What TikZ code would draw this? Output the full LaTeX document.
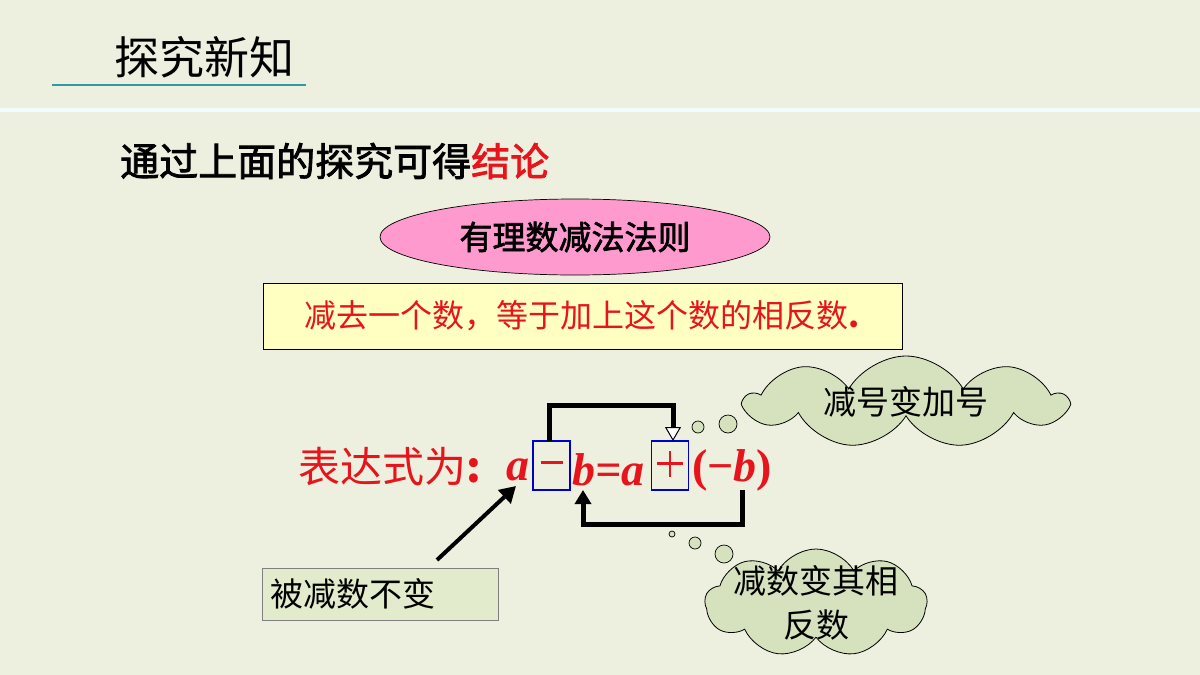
\documentclass[tikz,border=0pt]{standalone}
\usepackage{fontspec}
\setmainfont{Liberation Serif}
\newfontfamily\cjk{Noto Sans CJK SC}
\newfontfamily\cjkb[FakeBold=2]{Noto Sans CJK SC}
\usetikzlibrary{shapes.symbols,shapes.geometric,arrows.meta}
\definecolor{bg}{HTML}{EDEFDF}
\definecolor{teal}{HTML}{2E9AA6}
\definecolor{cloudg}{HTML}{D5E2BD}
\definecolor{boxg}{HTML}{E2EBCB}
\definecolor{yel}{HTML}{FFFFC2}
\definecolor{pink}{HTML}{FF9ACF}
\definecolor{red}{HTML}{E8141C}
\tikzset{
  cloudn/.style={cloud,cloud puffs=9,cloud puff arc=120,aspect=3,draw=black,fill=cloudg,line width=0.8pt,inner sep=0pt},
  ctext/.style={align=center,font=\cjk\fontsize{33}{44}\selectfont,inner sep=0pt},
  bub/.style={circle,draw=black,fill=cloudg,line width=0.7pt,inner sep=0pt},
  sbox/.style={draw=blue!80!black,line width=1.2pt,minimum width=37pt,minimum height=49pt},
  thk/.style={line width=5pt},
  sym/.style={red,line width=2.6pt},
  mth/.style={font=\bfseries\itshape\fontsize{46}{48}\selectfont,text=red,inner sep=0pt}
}
\begin{document}
\begin{tikzpicture}[x=1pt,y=-1pt]
\fill[bg] (0,0) rectangle (1200,675);
\useasboundingbox (0,0) rectangle (1200,675);
\fill[white!60!cyan!12] (0,108) rectangle (1200,112);
\node[anchor=west,font=\cjk\fontsize{45}{48}\selectfont,inner sep=0pt] (title) at (114,57) {探究新知};
\draw[teal,line width=2.5pt] (52,85) -- (306,85);
\node[anchor=west,font=\cjkb\fontsize{39}{42}\selectfont,inner sep=0pt] (concl) at (120,161) {通过上面的探究可得\textcolor{red}{结论}};
\node[ellipse,draw=black,fill=pink,line width=0.7pt,minimum width=390pt,minimum height=76pt,inner sep=0pt,font=\cjkb\fontsize{33}{36}\selectfont] (rule) at (575,237) {有理数减法法则};
\node[draw=black,fill=yel,line width=0.7pt,minimum width=639pt,minimum height=66pt,inner sep=0pt,font=\cjk\fontsize{32}{36}\selectfont,text=red] (stmt) at (582.5,316) {减去一个数，等于加上这个数的相反数{\bfseries .}};
\node[anchor=west,font=\cjk\fontsize{42}{46}\selectfont,text=red,inner sep=0pt] (expr) at (298,467) {表达式为{\bfseries :}};
\node[mth,anchor=east] (a1) at (530,470) {a};
\node[sbox] (b1) at (551.5,465.5) {};
\draw[sym] ([xshift=-11pt,yshift=3pt]b1.center) -- ([xshift=11pt,yshift=3pt]b1.center);
\node[mth,anchor=west] (bb) at (572,470) {b=a};
\node[sbox] (b2) at (670,465.5) {};
\draw[sym] ([xshift=-13pt,yshift=2pt]b2.center) -- ([xshift=13pt,yshift=2pt]b2.center);
\draw[sym] ([yshift=-11pt]b2.center) -- ([yshift=15pt]b2.center);
\node[mth,anchor=west] (nb) at (692,470) {\upshape(−\itshape b\upshape)};
\coordinate (t1) at (549,405);
\coordinate (t2) at (673,405);
\draw[thk,-{Triangle[open,fill=white,length=14pt,width=16pt,line width=1pt]}] (549,441) -- (t1) -- (t2) -- (673,441);
\coordinate (u1) at (742,524);
\coordinate (u2) at (583,524);
\draw[thk,-{Triangle[length=14pt,width=16pt]}] (742,490) -- (u1) -- (u2) -- (583,490);
\node[draw=gray,fill=boxg,line width=0.8pt,minimum width=236pt,minimum height=52pt,text width=220pt,font=\cjk\fontsize{33}{36}\selectfont] (keep) at (380,594) {被减数不变};
\draw[line width=4pt,-{Triangle[length=16pt,width=18pt]}] (437,560) -- (516,486);
\node[cloudn,minimum width=320pt,minimum height=92pt] (c1) at (906,402) {};
\node[ctext] (c1t) at (c1.center) {减号变加号};
\node[bub,minimum size=12pt] at (698,427) {};
\node[bub,minimum size=18pt] at (728,424) {};
\node[cloudn,aspect=2,minimum width=222pt,minimum height=108pt] (c2) at (816,603) {};
\node[ctext] (c2t) at (c2.center) {减数变其相\\反数};
\node[bub,minimum size=6pt] at (672,534) {};
\node[bub,minimum size=12pt] at (695,543) {};
\node[bub,minimum size=18pt] at (724,554) {};
\end{tikzpicture}
\end{document}
